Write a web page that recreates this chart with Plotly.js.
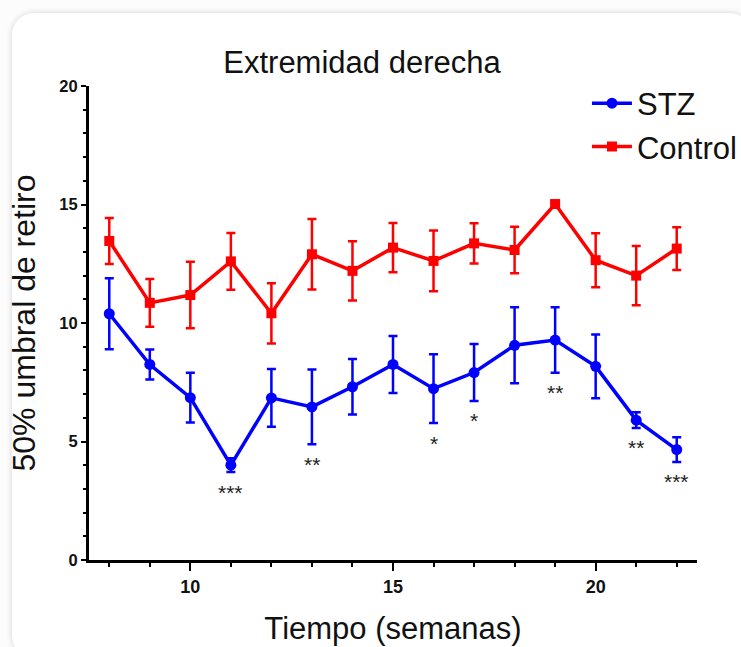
<!DOCTYPE html>
<html>
<head>
<meta charset="utf-8">
<script src="https://cdn.plot.ly/plotly-3.0.1.min.js"></script>
<style>
  html, body { margin: 0; padding: 0; background: #fcfcfc; width: 741px; height: 647px; overflow: hidden; }
  #card { position: absolute; left: 12px; top: 13px; width: 740px; height: 645px; background: #ffffff;
          border-radius: 22px; box-shadow: 0 0 6px rgba(0,0,0,0.16); }
  #plot { position: absolute; left: 0; top: 0; width: 741px; height: 647px; }
</style>
</head>
<body>
<div id="card"></div>
<div id="plot"></div>
<script>
// ---- data ----
var weeks = [8, 9, 10, 11, 12, 13, 14, 15, 16, 17, 18, 19, 20, 21, 22];

var stzMean = [10.39, 8.25, 6.85, 4.00, 6.84, 6.46, 7.31, 8.25, 7.23, 7.91, 9.06, 9.28, 8.17, 5.90, 4.66];
var stzErr  = [1.50, 0.63, 1.05, 0.29, 1.22, 1.58, 1.17, 1.20, 1.45, 1.20, 1.60, 1.38, 1.35, 0.33, 0.52];

var ctrlMean = [13.46, 10.85, 11.18, 12.60, 10.41, 12.90, 12.20, 13.18, 12.62, 13.36, 13.08, 15.02, 12.65, 12.00, 13.14];
var ctrlErr  = [0.97, 1.01, 1.40, 1.20, 1.27, 1.49, 1.25, 1.04, 1.28, 0.85, 0.98, 0.12, 1.14, 1.25, 0.90];

var sigWeeks  = [11, 13, 16, 17, 19, 21, 22];
var sigLabels = ['***', '**', '*', '*', '**', '**', '***'];

var seriesNames = ['STZ', 'Control'];
var titleText = 'Extremidad derecha';
var xTitle = 'Tiempo (semanas)';
var yTitle = '50% umbral de retiro';

// ---- build ----
var FONT = 'Liberation Sans, Arial, Helvetica, sans-serif';
var BLUE = '#0000ff', RED = '#ff0000';

var stz = {
  x: weeks, y: stzMean, name: seriesNames[0], type: 'scatter', mode: 'lines+markers',
  line: {color: BLUE, width: 3.5},
  marker: {color: BLUE, symbol: 'circle', size: 11},
  error_y: {type: 'data', array: stzErr, visible: true, color: BLUE, thickness: 2.5, width: 4.5}
};
var ctrl = {
  x: weeks, y: ctrlMean, name: seriesNames[1], type: 'scatter', mode: 'lines+markers',
  line: {color: RED, width: 3.5},
  marker: {color: RED, symbol: 'square', size: 10},
  error_y: {type: 'data', array: ctrlErr, visible: true, color: RED, thickness: 2.5, width: 4.5}
};

var annotations = sigWeeks.map(function (w, i) {
  var idx = weeks.indexOf(w);
  return {
    x: w, y: stzMean[idx] - stzErr[idx], xref: 'x', yref: 'y',
    text: sigLabels[i], showarrow: false, xanchor: 'center', yanchor: 'middle', yshift: -20,
    font: {family: FONT, size: 21, color: '#222222'}
  };
});

var layout = {
  width: 741, height: 647,
  paper_bgcolor: 'rgba(0,0,0,0)', plot_bgcolor: 'rgba(0,0,0,0)',
  margin: {l: 89, r: 44, t: 86, b: 87, pad: 0, autoexpand: false},
  showlegend: true,
  title: {
    text: titleText, font: {family: FONT, size: 31, color: '#111111'},
    xref: 'paper', x: 0.449, xanchor: 'center',
    yref: 'container', y: 1 - 62 / 647, yanchor: 'middle'
  },
  xaxis: {
    range: [7.5, 22.5], tick0: 0, dtick: 5, tickmode: 'linear',
    showline: true, linecolor: '#000', linewidth: 3, mirror: false,
    ticks: 'outside', ticklen: 8, tickwidth: 2, tickcolor: '#000',
    minor: {dtick: 1, tick0: 0, ticks: 'outside', ticklen: 4, tickwidth: 2, tickcolor: '#000'},
    showgrid: false, zeroline: false,
    tickfont: {family: FONT, size: 18, color: '#111', weight: 'bold'},
    title: {text: xTitle, font: {family: FONT, size: 31, color: '#111'}, standoff: 22},
    automargin: false
  },
  yaxis: {
    range: [0, 20], tick0: 0, dtick: 5, tickmode: 'linear',
    showline: true, linecolor: '#000', linewidth: 3,
    ticks: 'outside', ticklen: 5, tickwidth: 2, tickcolor: '#000',
    minor: {dtick: 1, tick0: 0, ticks: 'outside', ticklen: 3, tickwidth: 2, tickcolor: '#000'},
    showgrid: false, zeroline: false,
    tickfont: {family: FONT, size: 16.5, color: '#111', weight: 'bold'},
    title: {text: yTitle, font: {family: FONT, size: 32, color: '#111'}, standoff: 15},
    automargin: false
  },
  legend: {
    x: 0.819, xanchor: 'left', y: 1.02, yanchor: 'top',
    font: {family: FONT, size: 31, color: '#111'},
    itemwidth: 40, bgcolor: 'rgba(0,0,0,0)', borderwidth: 0, tracegroupgap: 0
  },
  annotations: annotations,
  hovermode: false
};

Plotly.newPlot('plot', [stz, ctrl], layout, {staticPlot: true, displayModeBar: false});
</script>
</body>
</html>
